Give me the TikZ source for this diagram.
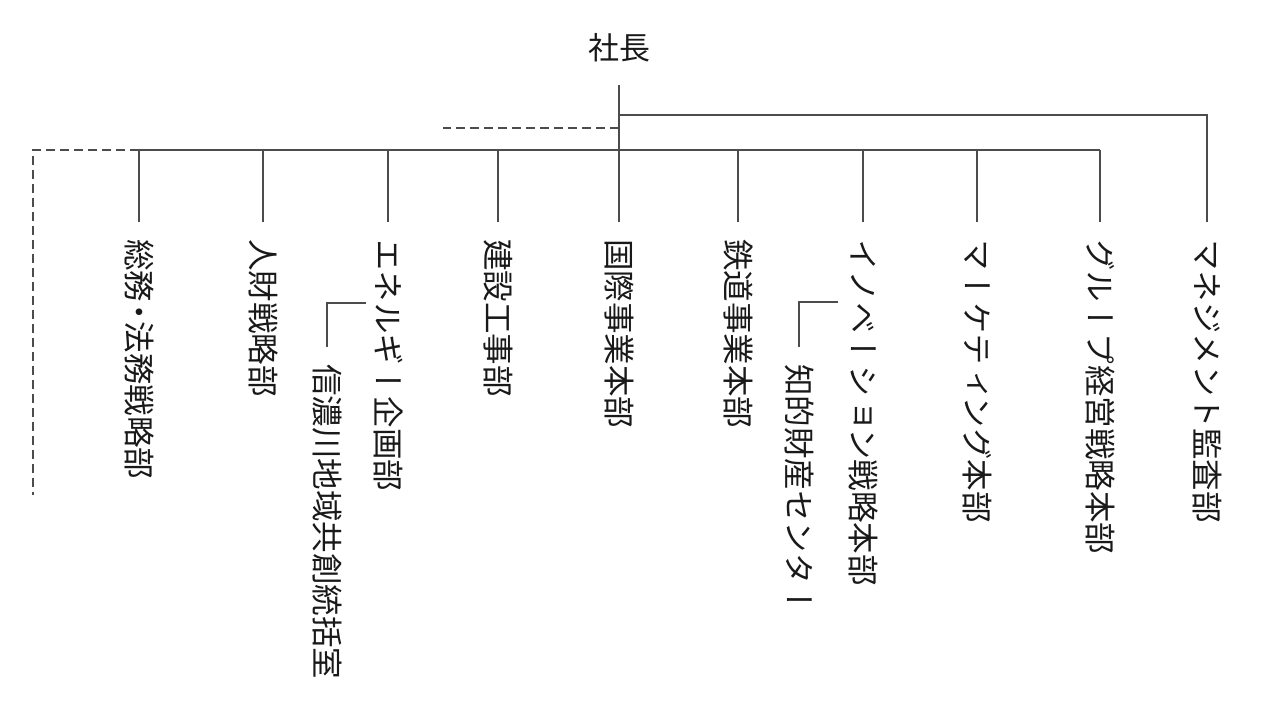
\documentclass[tikz,border=0pt]{standalone}
\usepackage{fontspec}
\newfontfamily\jp{Noto Sans CJK JP}
\newfontfamily\vjp[Vertical=RotatedGlyphs]{Noto Sans CJK JP}
\newcommand{\nakaguro}{\makebox[0.62em][c]{・}}
\begin{document}
\begin{tikzpicture}[x=1pt,y=-1pt,
  ln/.style={line width=2pt, draw=black!70},
  dl/.style={ln, dash pattern=on 9pt off 5pt},
  dept/.style={rotate=-90, anchor=west, inner sep=0pt, text height=27.5pt, text depth=4pt,
    font=\vjp\fontsize{31.5}{31.5}\selectfont, text=black!90},
  boss/.style={inner sep=0pt, text height=26.8pt, text depth=3.7pt,
    font=\jp\fontsize{31}{31}\selectfont, text=black!90},
  drop/.style={ln, shorten >=17pt}
]
\useasboundingbox (0,0) rectangle (1280,706);
% president
\node[boss] (p) at (619,48) {社長};
% departments
\node[dept] (d1)  at (139,239) {総務\nakaguro 法務戦略部};
\node[dept] (d2)  at (263,239) {人財戦略部};
\node[dept] (d3)  at (388,239) {エネルギー企画部};
\node[dept] (d4)  at (498,239) {建設工事部};
\node[dept] (d5)  at (619,239) {国際事業本部};
\node[dept] (d6)  at (738,239) {鉄道事業本部};
\node[dept] (d7)  at (863,239) {イノベーション戦略本部};
\node[dept] (d8)  at (977,239) {マーケティング本部};
\node[dept] (d9)  at (1100,239) {グループ経営戦略本部};
\node[dept] (d10) at (1207,239) {マネジメント監査部};
% sub units
\node[dept] (s1) at (327,364) {信濃川地域共創統括室};
\node[dept] (s2) at (799,364) {知的財産センター};
% helper coordinates
\coordinate (u)  at (619,115);
\coordinate (ds) at (443,128);
\coordinate (bL) at (139,150);
\coordinate (bR) at (1100,150);
\coordinate (le) at (33,495);
\coordinate (c1) at (366,303);
\coordinate (c2) at (838,302);
% trunk
\draw[ln, shorten <=22pt, shorten >=17pt] (p.south) -- (d5.west);
\draw[drop] (u) -| (d10.west);
\draw[dl] (u |- ds) -- (ds);
% bus
\draw[ln] (bL) -- (bR);
\draw[dl] (bL) -| (le);
\foreach \d in {d1,d2,d3,d4,d6,d7,d8,d9}
  \draw[drop] (\d.west |- bL) -- (\d.west);
% sub connectors
\draw[drop] (c1) -| (s1.west);
\draw[drop] (c2) -| (s2.west);
\end{tikzpicture}
\end{document}
